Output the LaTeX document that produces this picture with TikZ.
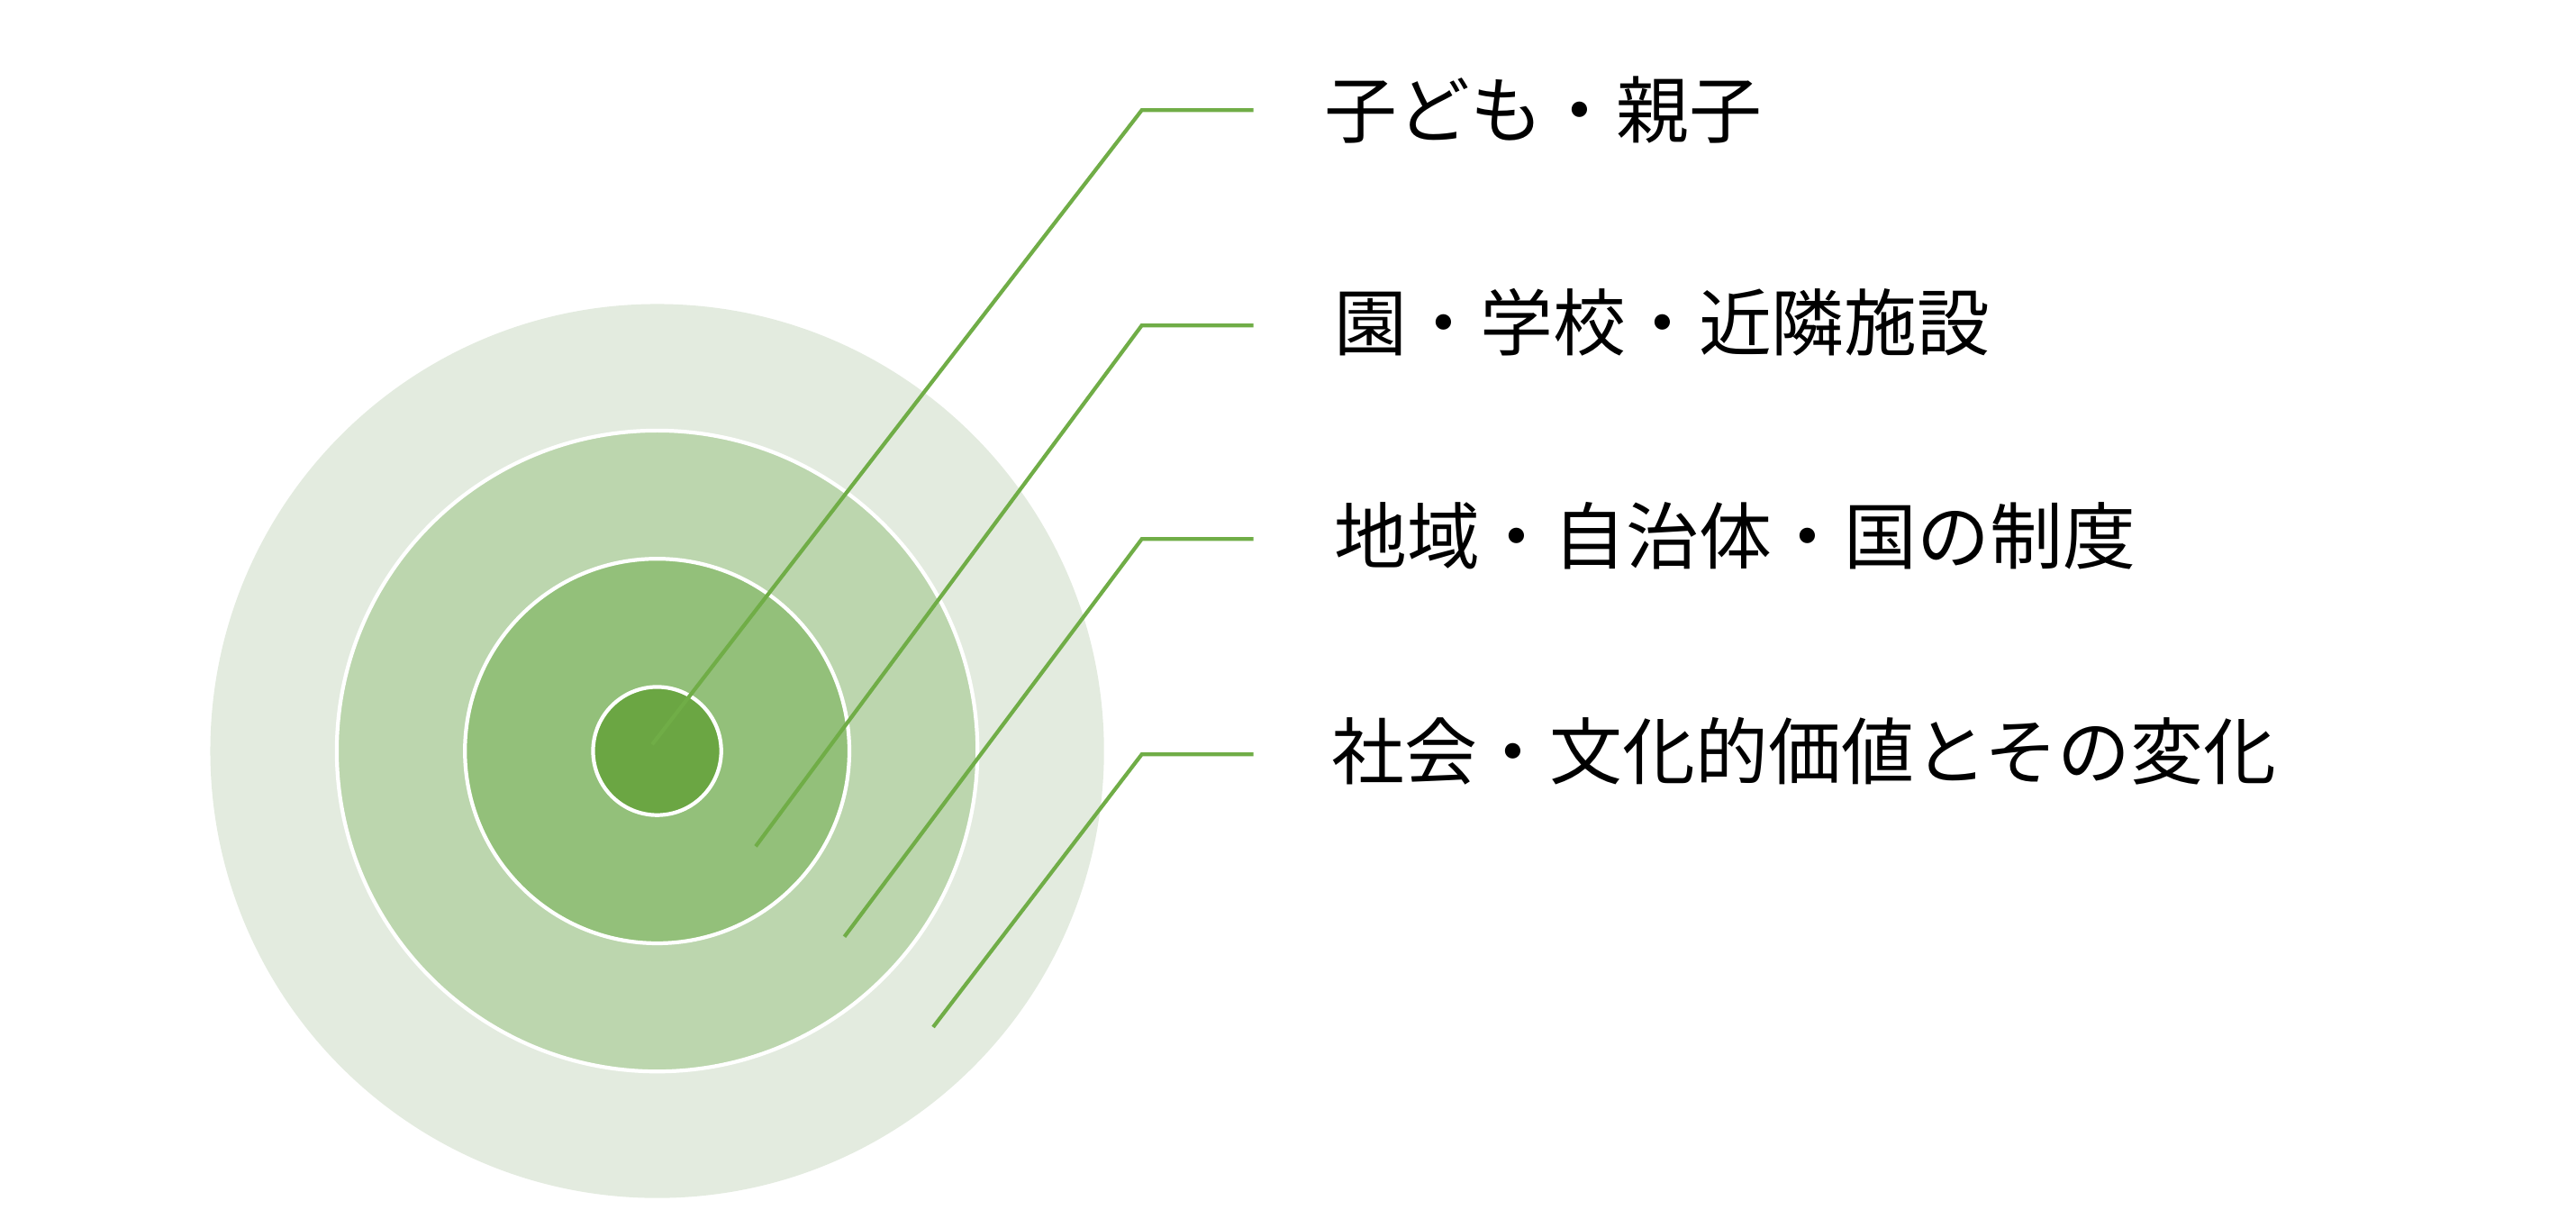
\documentclass[tikz,border=0pt]{standalone}
\usepackage{fontspec}
\newfontfamily\cjk{Noto Sans CJK JP}
\definecolor{c1}{HTML}{E3EBDF}
\definecolor{c2}{HTML}{BCD6AE}
\definecolor{c3}{HTML}{93C07A}
\definecolor{c4}{HTML}{6BA643}
\definecolor{ln}{HTML}{70AD47}
\begin{document}
\begin{tikzpicture}[x=0.01824cm,y=-0.01824cm,
  ring/.style={circle,draw=white,line width=1.2pt,inner sep=0pt},
  lead/.style={draw=ln,line width=1.2pt},
  lab/.style={anchor=west,font=\cjk\fontsize{23}{26}\selectfont,inner sep=0pt}]
\useasboundingbox (0,0) rectangle (1568,736);
\node[ring,fill=c1,draw=none,minimum size=544*0.01824cm] (r1) at (400,457) {};
\node[ring,fill=c2,minimum size=390*0.01824cm] (r2) at (400,457) {};
\node[ring,fill=c3,minimum size=234*0.01824cm] (r3) at (400,457) {};
\node[ring,fill=c4,minimum size=78*0.01824cm] (r4) at (400,457) {};
\coordinate (s1) at (397,453); \coordinate (b1) at (695,67); \coordinate (e1) at (763,67);
\coordinate (s2) at (460,515); \coordinate (b2) at (695,198); \coordinate (e2) at (763,198);
\coordinate (s3) at (514,570); \coordinate (b3) at (695,328); \coordinate (e3) at (763,328);
\coordinate (s4) at (568,625); \coordinate (b4) at (695,459); \coordinate (e4) at (763,459);
\draw[lead] (s1)--(b1)--(e1);
\draw[lead] (s2)--(b2)--(e2);
\draw[lead] (s3)--(b3)--(e3);
\draw[lead] (s4)--(b4)--(e4);
\node[lab] (t1) at (806,67) {子ども・親子};
\node[lab] (t2) at (812,196) {園・学校・近隣施設};
\node[lab] (t3) at (812,326) {地域・自治体・国の制度};
\node[lab] (t4) at (810,457) {社会・文化的価値とその変化};
\end{tikzpicture}
\end{document}
